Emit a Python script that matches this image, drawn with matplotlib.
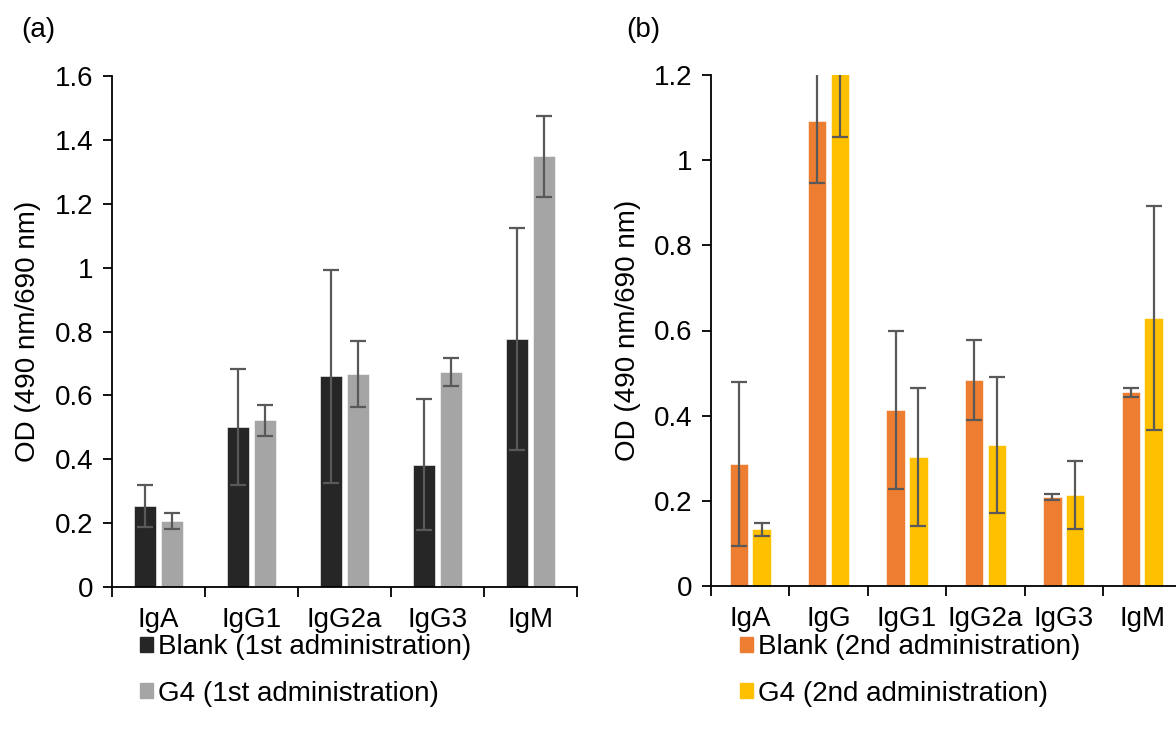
import matplotlib
matplotlib.use("Agg")
import matplotlib.pyplot as plt
from matplotlib.patches import Patch
import numpy as np

plt.rcParams['font.family'] = ['Liberation Sans', 'DejaVu Sans']

# Panel (a) data
cats_a = ["IgA", "IgG1", "IgG2a", "IgG3", "IgM"]
blank1 = [0.254, 0.500, 0.660, 0.383, 0.777]
blank1_err = [0.065, 0.182, 0.333, 0.205, 0.347]
g4_1 = [0.207, 0.522, 0.666, 0.673, 1.348]
g4_1_err = [0.026, 0.049, 0.103, 0.043, 0.127]
yticks_a = [0, 0.2, 0.4, 0.6, 0.8, 1, 1.2, 1.4, 1.6]

# Panel (b) data
cats_b = ["IgA", "IgG", "IgG1", "IgG2a", "IgG3", "IgM"]
blank2 = [0.286, 1.092, 0.413, 0.484, 0.210, 0.455]
blank2_err = [0.192, 0.145, 0.186, 0.094, 0.007, 0.010]
g4_2 = [0.133, 1.26, 0.302, 0.331, 0.213, 0.630]
g4_2_err = [0.015, 0.206, 0.162, 0.159, 0.080, 0.263]
yticks_b = [0, 0.2, 0.4, 0.6, 0.8, 1, 1.2]

W, H = 1176, 735
fig = plt.figure(figsize=(W / 100, H / 100), dpi=100)

FS = 20
ERRC = "#595959"


def fmt(v):
    return "0" if v == 0 else ("%g" % v)


def panel(rect, cats, s1, e1, s2, e2, c1, c2, ymax, yticks):
    ax = fig.add_axes(rect)
    x = np.arange(len(cats))
    w = 0.235
    off = 0.145
    ax.bar(x - off, s1, w, color=c1, edgecolor="white", linewidth=0.4, zorder=2)
    ax.bar(x + off, s2, w, color=c2, edgecolor="white", linewidth=0.4, zorder=2)
    ek = dict(fmt="none", ecolor=ERRC, elinewidth=1.6, capsize=6, capthick=1.6, zorder=3)
    ax.errorbar(x - off, s1, yerr=e1, **ek)
    ax.errorbar(x + off, s2, yerr=e2, **ek)
    ax.set_xlim(-0.5, len(cats) - 0.5)
    ax.set_ylim(0, ymax)
    ax.set_yticks(yticks)
    ax.set_yticklabels([fmt(v) for v in yticks], fontsize=FS)
    ax.set_xticks(x)
    ax.set_xticklabels(cats, fontsize=FS)
    ax.tick_params(axis="x", which="major", length=0, pad=14.5)
    ax.set_xticks(np.arange(len(cats) + 1) - 0.5, minor=True)
    ax.tick_params(axis="x", which="minor", length=7, width=1.3, direction="out")
    ax.tick_params(axis="y", length=6.5, width=1.3, direction="out", pad=7)
    for s in ("top", "right"):
        ax.spines[s].set_visible(False)
    for s in ("left", "bottom"):
        ax.spines[s].set_linewidth(1.3)
        ax.spines[s].set_color("black")
    ax.set_ylabel("OD (490 nm/690 nm)", fontsize=FS)
    return ax


ax_a = panel([112 / W, 1 - 587 / H, 465 / W, 511 / H], cats_a,
             blank1, blank1_err, g4_1, g4_1_err, "#262626", "#A5A5A5", 1.6, yticks_a)
ax_a.yaxis.set_label_coords(-0.153, 0.5)

ax_b = panel([711 / W, 1 - 586 / H, 470.4 / W, 511 / H], cats_b,
             blank2, blank2_err, g4_2, g4_2_err, "#ED7D31", "#FFC000", 1.2, yticks_b)
ax_b.yaxis.set_label_coords(-0.148, 0.5)

fig.text(21 / W, 1 - 30 / H, "(a)", fontsize=FS, ha="left", va="center")
fig.text(626 / W, 1 - 30 / H, "(b)", fontsize=FS, ha="left", va="center")

leg_kw = dict(loc="upper left", bbox_transform=fig.transFigure, frameon=False,
              borderpad=0, borderaxespad=0, handlelength=0.45, handleheight=0.45,
              handletextpad=0.2, labelspacing=0.74, fontsize=FS)
ax_a.legend([Patch(color="#262626"), Patch(color="#A5A5A5")],
            ["Blank (1st administration)", "G4 (1st administration)"],
            bbox_to_anchor=(140 / W, 1 - 634 / H), **leg_kw)
ax_b.legend([Patch(color="#ED7D31"), Patch(color="#FFC000")],
            ["Blank (2nd administration)", "G4 (2nd administration)"],
            bbox_to_anchor=(740 / W, 1 - 634 / H), **leg_kw)

fig.savefig("out.png", dpi=100)
